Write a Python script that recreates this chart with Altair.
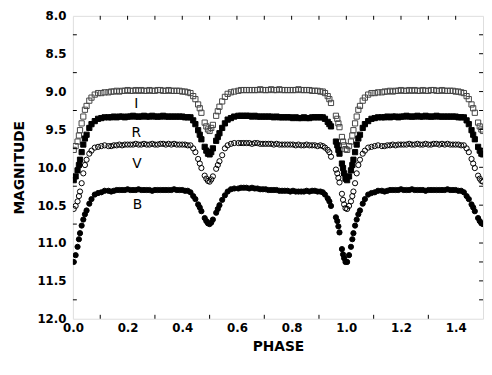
import altair as alt
import pandas as pd

# ---------------- data ----------------
BANDS = ["I", "R", "V", "B"]

PHASE = [
    # primary egress
    0.003, 0.010, 0.017, 0.022, 0.026, 0.032, 0.038, 0.044, 0.050, 0.060,
    0.068, 0.080, 0.092, 0.104, 0.116,
    # maximum 1
    0.13, 0.14, 0.15, 0.16, 0.17, 0.18, 0.19, 0.20, 0.21, 0.22,
    0.23, 0.24, 0.25, 0.26, 0.27, 0.28, 0.29, 0.30, 0.31, 0.32,
    0.33, 0.34, 0.35, 0.36, 0.37, 0.38, 0.39, 0.40, 0.41, 0.42,
    # secondary eclipse
    0.430, 0.440, 0.448, 0.458, 0.464, 0.470, 0.482, 0.488, 0.494, 0.500,
    0.506, 0.512, 0.524, 0.530, 0.536, 0.546, 0.556, 0.566, 0.578, 0.590,
    # maximum 2
    0.605, 0.615, 0.625, 0.635, 0.645, 0.655, 0.665, 0.675, 0.685, 0.695,
    0.705, 0.715, 0.725, 0.735, 0.745, 0.755, 0.765, 0.775, 0.785, 0.795,
    0.805, 0.815, 0.825, 0.835, 0.845, 0.855, 0.865, 0.875, 0.885, 0.895,
    # primary ingress
    0.905, 0.914, 0.922, 0.932, 0.938, 0.944, 0.962, 0.967, 0.971, 0.975,
    0.984, 0.988, 0.992, 0.997,
]

I_MAG = [
    9.77, 9.72, 9.66, 9.58, 9.51, 9.42, 9.33, 9.24, 9.19, 9.12,
    9.08, 9.04, 9.02, 9.02, 9.01,
    9.01, 9.00, 9.00, 8.99, 9.00, 8.99, 8.99, 8.98, 8.99, 8.99,
    8.98, 8.99, 8.98, 8.99, 8.99, 8.98, 8.99, 8.99, 8.98, 8.98,
    8.99, 8.99, 8.98, 8.99, 8.99, 8.99, 8.99, 9.00, 9.00, 9.01,
    9.02, 9.06, 9.10, 9.17, 9.22, 9.28, 9.41, 9.46, 9.50, 9.52,
    9.48, 9.44, 9.32, 9.26, 9.20, 9.13, 9.07, 9.03, 9.01, 9.00,
    8.99, 8.98, 8.98, 8.98, 8.98, 8.98, 8.98, 8.98, 8.97, 8.98,
    8.98, 8.98, 8.97, 8.98, 8.98, 8.97, 8.98, 8.98, 8.98, 8.98,
    8.98, 8.98, 8.97, 8.98, 8.98, 8.98, 8.98, 8.99, 8.99, 8.99,
    9.00, 9.00, 9.02, 9.06, 9.10, 9.15, 9.32, 9.36, 9.42, 9.47,
    9.60, 9.66, 9.71, 9.76,
]

R_MAG = [
    10.17, 10.12, 10.04, 9.97, 9.90, 9.80, 9.70, 9.62, 9.57, 9.48,
    9.43, 9.39, 9.36, 9.35, 9.34,
    9.34, 9.34, 9.33, 9.34, 9.33, 9.33, 9.34, 9.33, 9.33, 9.32,
    9.33, 9.33, 9.33, 9.32, 9.33, 9.33, 9.32, 9.33, 9.33, 9.33,
    9.32, 9.33, 9.33, 9.33, 9.33, 9.33, 9.33, 9.33, 9.34, 9.34,
    9.34, 9.38, 9.43, 9.51, 9.57, 9.63, 9.73, 9.78, 9.82, 9.83,
    9.80, 9.75, 9.65, 9.60, 9.55, 9.48, 9.42, 9.37, 9.35, 9.33,
    9.32, 9.32, 9.32, 9.32, 9.32, 9.33, 9.32, 9.33, 9.33, 9.33,
    9.33, 9.33, 9.33, 9.34, 9.33, 9.34, 9.34, 9.34, 9.34, 9.34,
    9.35, 9.34, 9.35, 9.35, 9.34, 9.35, 9.35, 9.34, 9.34, 9.34,
    9.34, 9.34, 9.36, 9.40, 9.43, 9.46, 9.66, 9.71, 9.77, 9.82,
    9.95, 10.01, 10.08, 10.15,
]

V_MAG = [
    10.55, 10.51, 10.45, 10.38, 10.32, 10.21, 10.08, 9.97, 9.90, 9.82,
    9.78, 9.74, 9.73, 9.72, 9.71,
    9.72, 9.72, 9.71, 9.71, 9.70, 9.71, 9.70, 9.70, 9.70, 9.70,
    9.69, 9.70, 9.70, 9.69, 9.70, 9.70, 9.69, 9.70, 9.70, 9.69,
    9.69, 9.70, 9.69, 9.70, 9.69, 9.70, 9.70, 9.70, 9.70, 9.71,
    9.71, 9.75, 9.80, 9.89, 9.95, 10.01, 10.11, 10.15, 10.18, 10.19,
    10.16, 10.12, 10.02, 9.97, 9.92, 9.84, 9.75, 9.71, 9.69, 9.68,
    9.68, 9.68, 9.68, 9.68, 9.68, 9.69, 9.68, 9.68, 9.69, 9.69,
    9.69, 9.69, 9.69, 9.70, 9.69, 9.70, 9.70, 9.70, 9.70, 9.70,
    9.70, 9.71, 9.70, 9.71, 9.71, 9.70, 9.71, 9.71, 9.71, 9.72,
    9.71, 9.72, 9.74, 9.77, 9.80, 9.86, 10.03, 10.08, 10.14, 10.20,
    10.35, 10.43, 10.49, 10.54,
]

B_MAG = [
    11.25, 11.16, 11.05, 10.95, 10.87, 10.77, 10.69, 10.62, 10.57, 10.48,
    10.42, 10.36, 10.34, 10.33, 10.31,
    10.31, 10.32, 10.31, 10.30, 10.30, 10.30, 10.30, 10.29, 10.30, 10.30,
    10.30, 10.29, 10.30, 10.30, 10.30, 10.30, 10.31, 10.30, 10.30, 10.30,
    10.30, 10.30, 10.30, 10.30, 10.29, 10.30, 10.30, 10.30, 10.31, 10.31,
    10.33, 10.38, 10.42, 10.49, 10.53, 10.58, 10.67, 10.71, 10.74, 10.75,
    10.73, 10.69, 10.60, 10.55, 10.50, 10.43, 10.37, 10.32, 10.29, 10.28,
    10.28, 10.27, 10.27, 10.27, 10.28, 10.27, 10.28, 10.28, 10.29, 10.29,
    10.29, 10.30, 10.30, 10.30, 10.30, 10.31, 10.31, 10.31, 10.31, 10.32,
    10.31, 10.32, 10.32, 10.32, 10.32, 10.31, 10.32, 10.31, 10.31, 10.32,
    10.32, 10.33, 10.36, 10.41, 10.45, 10.51, 10.66, 10.71, 10.78, 10.86,
    11.08, 11.15, 11.20, 11.25,
]

LABEL_PHASE = [0.232, 0.232, 0.234, 0.236]
LABEL_MAG = [9.17, 9.55, 9.96, 10.50]

X_LABEL_VALUES = [0.0, 0.2, 0.4, 0.6, 0.8, 1.0, 1.2, 1.4]
Y_LABEL_VALUES = [8.0, 8.5, 9.0, 9.5, 10.0, 10.5, 11.0, 11.5, 12.0]
BOTTOM_TICKS = [0.1, 0.3, 0.5, 0.7, 0.9, 1.1, 1.3]
TOP_TICKS = [0.1, 0.2, 0.3, 0.4, 0.5, 0.6, 0.7, 0.8, 0.9, 1.0, 1.1, 1.2, 1.3, 1.4]
LEFT_TICKS = [8.25, 8.75, 9.25, 9.75, 10.25, 10.75, 11.25, 11.75]
RIGHT_TICKS = [8.25, 8.5, 8.75, 9.0, 9.25, 9.5, 9.75, 10.0, 10.25, 10.5,
               10.75, 11.0, 11.25, 11.5, 11.75]

# ---------------- tables ----------------
rows = []
for band, mags in zip(BANDS, [I_MAG, R_MAG, V_MAG, B_MAG]):
    for p, m in zip(PHASE, mags):
        rows.append({"band": band, "phase": p, "mag": m})
        if p <= 0.5:  # phase-folded copy shown from 1.0 to 1.5
            rows.append({"band": band, "phase": p + 1.0, "mag": m})
df = pd.DataFrame(rows)

labels_df = pd.DataFrame({"band": BANDS, "phase": LABEL_PHASE, "mag": LABEL_MAG})

W, H = 417, 308
FONT = "DejaVu Sans"
TL = 4  # inner tick length

xs = alt.Scale(domain=[0, 1.5], nice=False, zero=False)
ys = alt.Scale(domain=[8, 12], reverse=True, nice=False, zero=False)

x_axis = alt.Axis(values=X_LABEL_VALUES, format=".1f", ticks=False, tickSize=0,
                  domain=False, grid=False, labelFont=FONT, labelFontSize=12,
                  labelFontWeight="bold", labelColor="black", labelPadding=4,
                  labelFlush=False, title="PHASE", titleFont=FONT,
                  titleFontSize=14, titleFontWeight="bold", titleColor="black",
                  titlePadding=6)
y_axis = alt.Axis(values=Y_LABEL_VALUES, format=".1f", ticks=False, tickSize=0,
                  domain=False, grid=False, labelFont=FONT, labelFontSize=12,
                  labelFontWeight="bold", labelColor="black", labelPadding=7,
                  labelFlush=False, title="MAGNITUDE", titleFont=FONT,
                  titleFontSize=14, titleFontWeight="bold", titleColor="black",
                  titlePadding=11)

X = alt.X("phase:Q", scale=xs, axis=x_axis)
Y = alt.Y("mag:Q", scale=ys, axis=y_axis)

points = alt.Chart(df).mark_point(size=28, strokeWidth=1, clip=True, opacity=1).encode(
    x=X,
    y=Y,
    shape=alt.Shape("band:N", scale=alt.Scale(domain=BANDS,
                    range=["square", "square", "circle", "circle"]), legend=None),
    fill=alt.Fill("band:N", scale=alt.Scale(domain=BANDS,
                  range=["transparent", "black", "transparent", "black"]), legend=None),
    stroke=alt.Stroke("band:N", scale=alt.Scale(domain=BANDS,
                      range=["#444444", "black", "black", "black"]), legend=None),
)

texts = alt.Chart(labels_df).mark_text(font=FONT, fontSize=14, color="black",
                                       align="center", baseline="middle").encode(
    x=X, y=Y, text="band:N")

bottom_ticks = alt.Chart(pd.DataFrame({"phase": BOTTOM_TICKS})).mark_rule(
    color="black", strokeWidth=1).encode(x=X, y=alt.value(H), y2=alt.value(H - TL))
top_ticks = alt.Chart(pd.DataFrame({"phase": TOP_TICKS})).mark_rule(
    color="black", strokeWidth=1).encode(x=X, y=alt.value(0), y2=alt.value(TL))
left_ticks = alt.Chart(pd.DataFrame({"mag": LEFT_TICKS})).mark_rule(
    color="black", strokeWidth=1).encode(y=Y, x=alt.value(0), x2=alt.value(TL))
right_ticks = alt.Chart(pd.DataFrame({"mag": RIGHT_TICKS})).mark_rule(
    color="black", strokeWidth=1).encode(y=Y, x=alt.value(W), x2=alt.value(W - TL))

chart = alt.layer(points, texts, bottom_ticks, top_ticks, left_ticks, right_ticks).properties(
    width=W, height=H,
    autosize=alt.AutoSizeParams(type="none"),
    padding={"left": 66, "top": 5, "right": 1, "bottom": 41},
).configure_view(stroke="black", strokeWidth=1.2).configure(background="white")

chart.save("out.html", embed_options={"renderer": "svg", "actions": False})
